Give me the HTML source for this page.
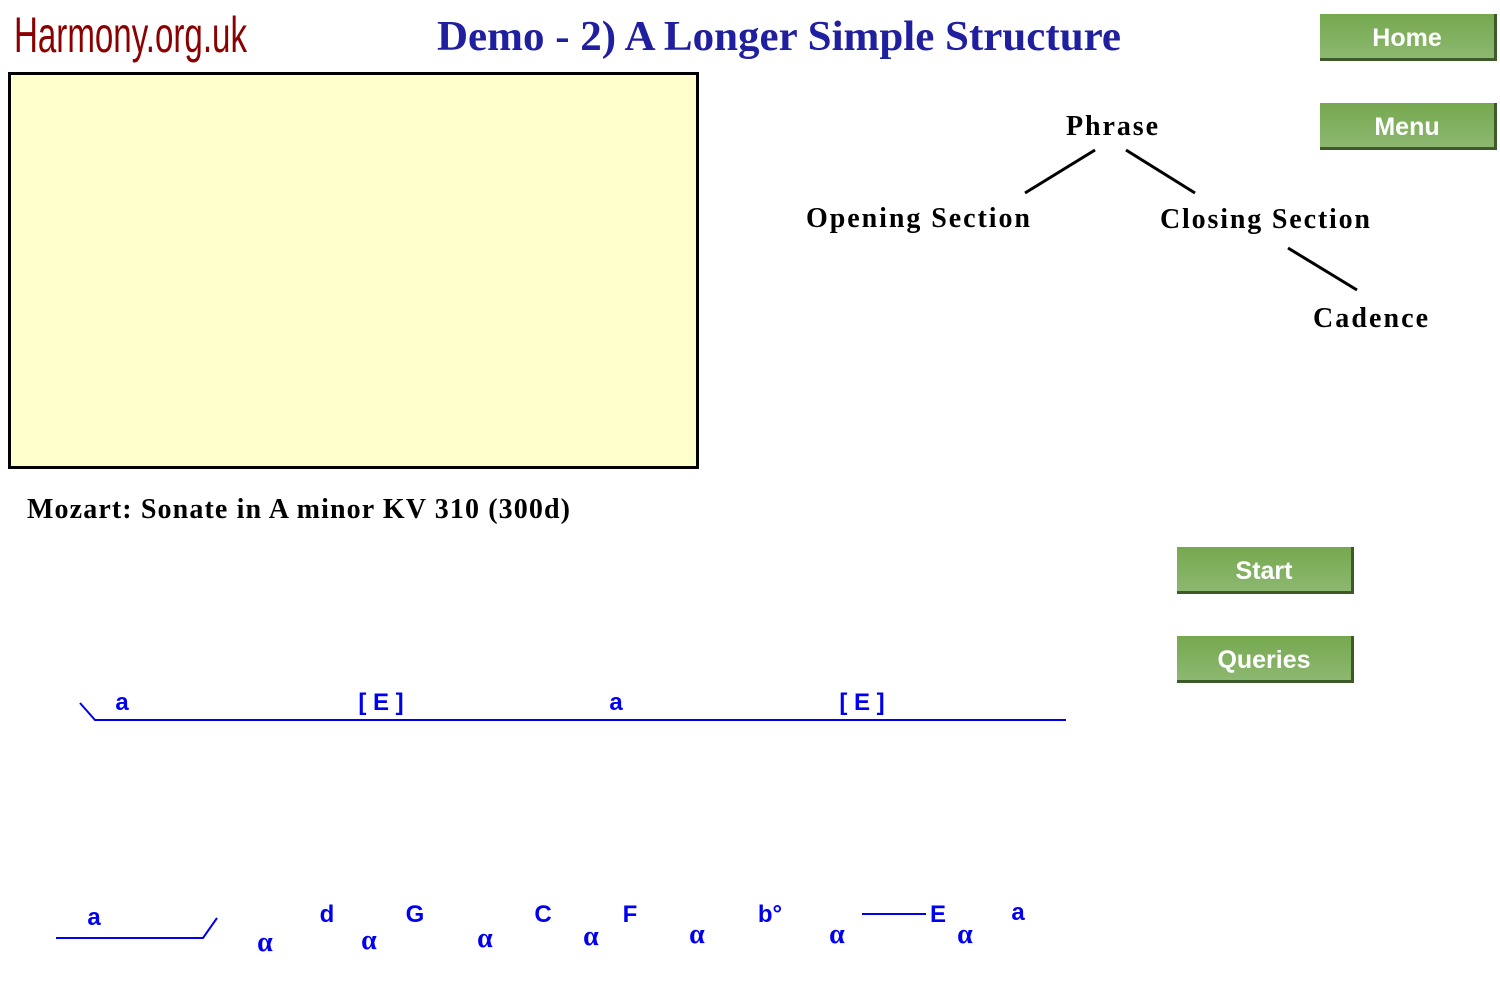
<!DOCTYPE html>
<html><head><meta charset="utf-8"><style>
body{margin:0;width:1500px;height:1000px;background:#fff;overflow:hidden;position:relative}
.btn{position:absolute;width:174px;height:44px;background:linear-gradient(#76a84f,#8cb870);border-right:3px solid #3e5a2a;border-bottom:3px solid #3e5a2a;color:#fff;font:bold 25px "Liberation Sans",sans-serif;text-align:center;line-height:48px}
</style></head><body>
<svg width="1500" height="1000" style="position:absolute;left:0;top:0">
<text x="14" y="52" font-family="Liberation Sans Narrow, Liberation Sans, sans-serif" font-size="50" fill="#8b0000" textLength="233" lengthAdjust="spacingAndGlyphs">Harmony.org.uk</text>
<text x="437" y="50" font-family="Liberation Serif,serif" font-weight="bold" font-size="42" fill="#1f1fa0" textLength="684" lengthAdjust="spacingAndGlyphs">Demo - 2) A Longer Simple Structure</text>
<rect x="9.5" y="73.5" width="688" height="394" fill="#ffffcc" stroke="#000" stroke-width="3"/>
<g font-family="Liberation Serif,serif" font-weight="bold" font-size="28" fill="#000" lengthAdjust="spacingAndGlyphs">
<text x="1066" y="135" textLength="92">Phrase</text>
<text x="806" y="227" textLength="224">Opening Section</text>
<text x="1160" y="228" textLength="210">Closing Section</text>
<text x="1313" y="327" textLength="115">Cadence</text>
<text x="27" y="518" textLength="543">Mozart: Sonate in A minor KV 310 (300d)</text>
</g>
<g stroke="#000" stroke-width="3">
<line x1="1095" y1="150" x2="1025" y2="193"/><line x1="1126" y1="150" x2="1195" y2="193"/><line x1="1288" y1="248" x2="1357" y2="290"/>
</g>
<g stroke="#0000ee" stroke-width="2" fill="none">
<polyline points="80,703 95,720 1066,720"/>
<polyline points="56,938 203,938 217,918"/>
<line x1="862" y1="914" x2="926" y2="914"/>
</g>
<g font-family="Liberation Sans,sans-serif" font-weight="bold" font-size="24" fill="#0000ee" text-anchor="middle">
<text x="122" y="710">a</text><text x="381" y="710">[ E ]</text><text x="616" y="710">a</text><text x="862" y="710">[ E ]</text>
<text x="94" y="925">a</text><text x="327" y="922">d</text><text x="415" y="922">G</text><text x="543" y="922">C</text><text x="630" y="922">F</text><text x="770" y="922">b°</text><text x="938" y="922">E</text><text x="1018" y="920">a</text>
</g>
<g font-family="Liberation Serif,serif" font-weight="bold" font-size="28" fill="#0000ee" text-anchor="middle">
<text x="265" y="951">α</text><text x="369" y="949">α</text><text x="485" y="947">α</text><text x="591" y="945">α</text><text x="697" y="943">α</text><text x="837" y="943">α</text><text x="965" y="943">α</text>
</g>
</svg>
<div class="btn" style="left:1320px;top:14px">Home</div>
<div class="btn" style="left:1320px;top:103px">Menu</div>
<div class="btn" style="left:1177px;top:547px">Start</div>
<div class="btn" style="left:1177px;top:636px">Queries</div>
</body></html>
